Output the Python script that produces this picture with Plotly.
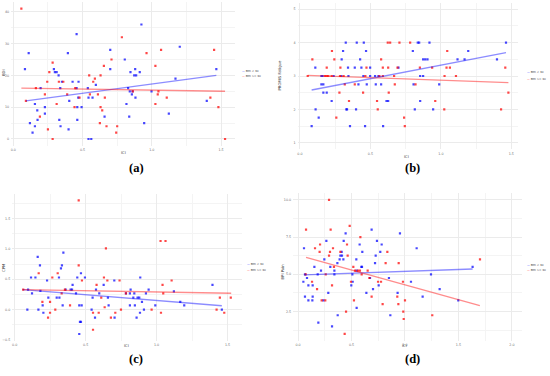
import plotly.graph_objects as go

# ---------------- data ----------------
# Panel (a): BDI vs ICI
a_blue_x = [0.111,0.084,0.156,0.173,0.120,0.139,0.156,0.175,0.197,0.228,0.228,0.293,0.300,0.313,0.327,0.339,0.351,0.332,0.341,0.394,0.457,0.399,0.404,0.428,0.462,0.457,0.462,0.471,0.469,0.493,0.538,0.543,0.543,0.563,0.572,0.596,0.659,0.700,0.700,0.805,0.817,0.829,0.837,0.841,0.861,0.846,0.856,0.873,0.880,0.882,0.887,0.913,0.925,0.945,0.998,1.123,1.171,1.202,1.397,1.466]
a_blue_y = [27,22,11,9,5,2,4,6,16,10,8,22,21,21,20,16,18,6,4,27,33,3,12,18,10,16,6,18,13,10,16,13,0,0,13,17,7,28,22,25,11,16,7,15,15,21,14,20,22,13,20,21,36,5,15,8,19,29,12,22]
a_red_x = [0.058,0.091,0.163,0.192,0.228,0.250,0.284,0.260,0.284,0.245,0.329,0.361,0.313,0.389,0.442,0.447,0.478,0.548,0.553,0.577,0.589,0.611,0.625,0.630,0.630,0.642,0.654,0.661,0.673,0.709,0.743,0.750,0.784,0.863,0.962,1.026,1.026,1.043,1.048,1.067,1.108,1.423,1.450,1.481,1.529]
a_red_y = [41,12,16,7,14,3,0,21,24,18,18,18,11,14,10,16,13,20,14,18,19,14,5,20,10,9,23,13,4,25,2,4,32,15,27,23,11,14,15,28,13,13,28,10,0]
a_fit_blue_x = [0.091, 1.466]
a_fit_blue_y = [12.0, 20.0]
a_fit_red_x = [0.058, 1.529]
a_fit_red_y = [16.0, 15.0]

# Panel (b): PROMIS Fatigue vs ICI
b_blue_x = [0.325,0.403,0.453,0.836,0.846,0.919,1.462,
            0.306,0.469,0.801,1.194,
            0.296,0.427,0.874,0.889,0.905,1.118,1.168,1.398,
            0.109,0.341,0.389,0.436,0.498,0.699,
            0.152,0.161,0.239,0.294,0.344,0.450,0.498,0.533,0.557,0.853,0.874,
            0.152,0.166,0.415,0.474,0.538,0.576,0.806,0.988,
            0.166,0.190,
            0.225,0.614,0.626,0.853,
            0.111,0.329,0.334,0.398,0.815,0.945,
            0.133,
            0.083,0.355,0.462,0.590]
b_blue_y = [4.0]*7 + [3.75]*4 + [3.5]*8 + [3.25]*6 + [3.0]*11 + [2.75]*8 + [2.5]*2 + [2.25]*4 + [2.0]*6 + [1.75]*1 + [1.5]*4
b_red_x = [0.623,0.640,0.706,0.782,
           0.227,1.045,
           0.088,0.244,0.576,
           0.190,0.287,0.472,0.588,0.626,0.692,0.851,0.938,1.040,1.064,1.457,
           0.055,0.178,0.190,0.201,0.225,0.284,0.310,0.464,0.564,0.588,0.668,1.026,1.107,
           0.318,0.389,0.673,0.820,
           0.280,0.448,0.630,1.479,
           0.348,0.547,0.960,
           0.552,1.024,1.427,
           0.258,0.739,
           0.744]
b_red_y = [4.0]*4 + [3.75]*2 + [3.5]*3 + [3.25]*11 + [3.0]*13 + [2.75]*4 + [2.5]*4 + [2.25]*3 + [2.0]*3 + [1.75]*2 + [1.5]*1
b_fit_blue_x = [0.083, 1.462]
b_fit_blue_y = [2.58, 3.70]
b_fit_red_x = [0.055, 1.479]
b_fit_red_y = [3.02, 2.80]

# Panel (c): CPM vs ICI
c_blue_x = [0.094,0.089,0.115,0.122,0.146,0.162,0.167,0.178,0.181,0.197,0.202,0.228,0.237,0.296,0.315,0.312,0.326,0.333,0.343,0.338,0.359,0.394,0.404,0.408,0.432,0.441,0.455,0.472,0.460,0.467,0.455,0.467,0.495,0.542,0.549,0.566,0.573,0.596,0.627,0.657,0.662,0.704,0.702,0.784,0.812,0.817,0.812,0.836,0.847,0.843,0.859,0.866,0.878,0.883,0.885,0.897,0.911,0.925,0.944,0.991,1.122,1.167,1.195,1.394,1.460]
c_blue_y = [0.33,0.0,0.53,0.27,0.53,0.87,0.0,0.73,0.31,0.07,-0.05,0.48,0.20,0.20,0.20,0.53,0.68,0.73,0.94,0.07,0.33,0.33,0.33,0.41,0.27,0.53,0.07,0.07,-0.20,-0.20,-0.40,0.60,0.53,0.0,0.20,-0.13,0.33,0.27,0.41,0.20,0.07,-0.13,0.48,0.27,0.07,0.33,0.27,0.20,0.07,0.27,-0.13,0.20,0.20,-0.05,0.53,0.13,0.0,0.27,0.33,0.07,0.30,0.13,0.07,0.41,0.0]
c_red_x = [0.060,0.169,0.195,0.235,0.249,0.249,0.265,0.286,0.303,0.331,0.354,0.390,0.451,0.451,0.474,0.552,0.552,0.577,0.592,0.610,0.629,0.634,0.643,0.653,0.678,0.709,0.739,0.749,0.784,0.965,1.028,1.063,1.031,1.042,1.047,1.106,1.423,1.446,1.477,1.523]
c_red_y = [0.33,0.60,0.13,-0.13,-0.05,0.13,0.53,0.0,0.60,0.27,0.33,0.07,1.80,0.73,0.48,-0.05,-0.33,0.41,-0.05,0.20,0.53,0.04,1.01,0.48,-0.13,-0.05,0.48,0.0,0.27,0.0,1.13,1.13,-0.05,0.41,0.27,0.48,0.0,0.20,-0.05,0.20]
c_fit_blue_x = [0.056, 1.460]
c_fit_blue_y = [0.33, 0.065]
c_fit_red_x = [0.056, 1.526]
c_fit_red_y = [0.33, 0.27]

# Panel (d): BPI Pain vs ICI
d_blue_x = [0.056,0.065,0.050,0.065,0.084,0.097,0.097,0.137,0.137,0.134,0.153,0.184,0.190,0.215,0.237,0.246,0.265,0.283,0.302,0.318,0.340,0.340,0.368,0.371,0.389,0.396,0.411,0.408,0.424,0.427,0.445,0.498,0.508,0.511,0.545,0.548,0.548,0.576,0.592,0.598,0.601,0.639,0.673,0.688,0.701,0.720,0.726,0.738,0.754,0.769,0.782,0.850,0.863,0.931,0.953,1.056,1.109,1.165,1.243,1.324,1.498,1.632]
d_blue_y = [6.75,5.0,4.5,3.5,4.75,4.25,3.25,4.25,3.5,3.25,5.5,5.0,1.75,5.25,3.25,6.0,7.25,3.75,5.5,1.5,5.25,5.0,5.75,2.25,6.0,6.25,6.25,6.5,6.0,7.25,7.75,4.25,5.0,4.5,6.0,5.25,2.75,7.0,5.5,5.5,6.5,3.75,4.75,8.0,4.0,5.75,6.25,7.25,4.25,6.5,7.0,4.75,2.25,3.75,7.75,4.5,6.75,3.5,5.0,4.0,3.25,5.5]
d_red_x = [0.075,0.072,0.131,0.159,0.178,0.202,0.206,0.221,0.255,0.259,0.290,0.290,0.299,0.305,0.318,0.327,0.336,0.396,0.436,0.449,0.458,0.464,0.483,0.495,0.517,0.523,0.533,0.561,0.579,0.583,0.595,0.651,0.667,0.688,0.748,0.776,0.791,0.819,0.835,0.928,0.938,0.941,0.981,0.984,0.988,1.000,1.255,1.701]
d_red_y = [8.0,5.0,4.5,6.75,4.0,6.5,7.0,3.25,3.25,5.0,10.0,6.25,6.5,8.0,4.25,6.75,5.5,6.5,1.0,2.5,7.0,6.25,8.25,4.5,5.5,3.25,5.25,5.25,5.25,7.5,5.0,5.25,4.75,3.5,4.5,4.5,3.0,5.75,6.5,3.5,3.0,5.75,4.5,2.5,2.0,3.25,2.25,6.0]
d_fit_blue_x = [0.059, 1.632]
d_fit_blue_y = [4.96, 5.36]
d_fit_red_x = [0.075, 1.700]
d_fit_red_y = [6.14, 2.90]

y_titles = ["BDI", "PROMIS Fatigue", "CPM", "BPI Pain"]
x_title = "ICI"
captions = ["(a)", "(b)", "(c)", "(d)"]
legend_labels = ["BMI &lt; 30", "BMI &gt;= 30"]

# ---------------- layout geometry (pixels) ----------------
W, H = 550, 376
BLUE = "#0000FF"
RED = "#FF0000"
BLUE_LINE = "rgba(0,0,255,0.45)"
RED_LINE = "rgba(255,0,0,0.45)"

panels = [
    dict(px=(11.1, 235.3), py=(2.1, 145.5), xr=[-0.016, 1.603], yr=[-2.05, 43.05],
         xt=[0, 0.5, 1.0, 1.5], yt=[0, 10, 20, 30, 40], ydt=10, xdt=0.5, yfmt="d",
         data=(a_blue_x, a_blue_y, a_red_x, a_red_y, a_fit_blue_x, a_fit_blue_y, a_fit_red_x, a_fit_red_y),
         ytitle_pos=(3, 73), xtitle_pos=(123, 152.5), cap=(136, 168), leg=(241, 71, 76)),
    dict(px=(297.7, 518.4), py=(2.6, 149.4), xr=[-0.016, 1.55], yr=[0.8, 5.2],
         xt=[0, 0.5, 1.0, 1.5], yt=[1, 2, 3, 4, 5], ydt=1, xdt=0.5, yfmt="d",
         data=(b_blue_x, b_blue_y, b_red_x, b_red_y, b_fit_blue_x, b_fit_blue_y, b_fit_red_x, b_fit_red_y),
         ytitle_pos=(278.5, 76), xtitle_pos=(406, 156), cap=(412, 168), leg=(526, 72.3, 78.7)),
    dict(px=(12.3, 241.7), py=(193.6, 340.7), xr=[-0.017, 1.60], yr=[-0.51, 1.91],
         xt=[0, 0.5, 1.0, 1.5], yt=[-0.5, 0, 0.5, 1.0, 1.5], ydt=0.5, xdt=0.5, yfmt=".1f",
         data=(c_blue_x, c_blue_y, c_red_x, c_red_y, c_fit_blue_x, c_fit_blue_y, c_fit_red_x, c_fit_red_y),
         ytitle_pos=(3, 268), xtitle_pos=(126, 345.5), cap=(136, 358.5), leg=(246, 264.3, 270)),
    dict(px=(293.2, 521.6), py=(193.1, 340.6), xr=[-0.045, 2.09], yr=[0.55, 10.45],
         xt=[0, 0.5, 1.0, 1.5, 2.0], yt=[2.5, 5.0, 7.5, 10.0], ydt=2.5, xdt=0.5, yfmt=".1f",
         data=(d_blue_x, d_blue_y, d_red_x, d_red_y, d_fit_blue_x, d_fit_blue_y, d_fit_red_x, d_fit_red_y),
         ytitle_pos=(281.5, 272), xtitle_pos=(404, 345.5), cap=(412, 358.5), leg=(526, 265, 270.3)),
]

fig = go.Figure()
annotations = []
layout = {}
tick_font = dict(family="DejaVu Sans", size=3.3, color="#707070")
title_font = dict(family="DejaVu Sans", size=3.8, color="#404040")

def px2x(v):
    return v / W

def px2y(v):
    return 1 - v / H

for i, p in enumerate(panels):
    n = "" if i == 0 else str(i + 1)
    xa, ya = "x" + n, "y" + n
    bx, by, rx, ry, fbx, fby, frx, fry = p["data"]
    fig.add_trace(go.Scatter(x=bx, y=by, mode="markers", xaxis=xa, yaxis=ya, showlegend=False,
                             marker=dict(symbol="square", size=2.2, color=BLUE, opacity=0.72, line=dict(width=0))))
    fig.add_trace(go.Scatter(x=rx, y=ry, mode="markers", xaxis=xa, yaxis=ya, showlegend=False,
                             marker=dict(symbol="square", size=2.2, color=RED, opacity=0.72, line=dict(width=0))))
    fig.add_trace(go.Scatter(x=fbx, y=fby, mode="lines", xaxis=xa, yaxis=ya, showlegend=False,
                             line=dict(color=BLUE_LINE, width=1.4)))
    fig.add_trace(go.Scatter(x=frx, y=fry, mode="lines", xaxis=xa, yaxis=ya, showlegend=False,
                             line=dict(color=RED_LINE, width=1.4)))

    common = dict(showline=False, zeroline=False, ticks="", showgrid=True,
                  gridcolor="#EBEBEB", gridwidth=0.6, tickfont=tick_font, automargin=False)
    layout["xaxis" + n] = dict(common, domain=[px2x(p["px"][0]), px2x(p["px"][1])], range=p["xr"],
                               anchor=ya, tickvals=p["xt"], tickformat=".1f", ticklabelstandoff=1,
                               minor=dict(dtick=p["xdt"] / 2, tick0=0, showgrid=True, gridcolor="#F4F4F4", gridwidth=0.5))
    layout["yaxis" + n] = dict(common, domain=[px2y(p["py"][1]), px2y(p["py"][0])], range=p["yr"],
                               anchor=xa, tickvals=p["yt"], tickformat=p["yfmt"], ticklabelstandoff=1,
                               minor=dict(dtick=p["ydt"] / 2, tick0=0, showgrid=True, gridcolor="#F4F4F4", gridwidth=0.5))

    # axis titles
    tx, ty = p["ytitle_pos"]
    annotations.append(dict(x=px2x(tx), y=px2y(ty), xref="paper", yref="paper", text=y_titles[i],
                            textangle=-90, showarrow=False, font=title_font, xanchor="center", yanchor="middle"))
    tx, ty = p["xtitle_pos"]
    annotations.append(dict(x=px2x(tx), y=px2y(ty), xref="paper", yref="paper", text=x_title,
                            showarrow=False, font=title_font, xanchor="center", yanchor="middle"))
    # caption
    cx, cy = p["cap"]
    annotations.append(dict(x=px2x(cx), y=px2y(cy), xref="paper", yref="paper", text="<b>" + captions[i] + "</b>",
                            showarrow=False, font=dict(family="Liberation Serif", size=12.5, color="#000000"),
                            xanchor="center", yanchor="middle"))
    # legend
    lx, ly1, ly2 = p["leg"]
    for lbl, col, lyy in [(legend_labels[0], "rgba(0,0,255,0.6)", ly1), (legend_labels[1], "rgba(255,0,0,0.6)", ly2)]:
        annotations.append(dict(x=px2x(lx), y=px2y(lyy), xref="paper", yref="paper",
                                text="<span style='color:%s'><b>—</b></span> %s" % (col, lbl),
                                showarrow=False, font=dict(family="DejaVu Sans", size=2.8, color="#404040"),
                                xanchor="left", yanchor="middle", align="left", borderpad=0))

fig.update_layout(width=W, height=H, margin=dict(l=0, r=0, t=0, b=0),
                  paper_bgcolor="white", plot_bgcolor="white", showlegend=False,
                  annotations=annotations, **layout)

fig.write_html("out.html", config={"displayModeBar": False},
               post_script="document.body.style.margin='0';document.body.style.padding='0';")
